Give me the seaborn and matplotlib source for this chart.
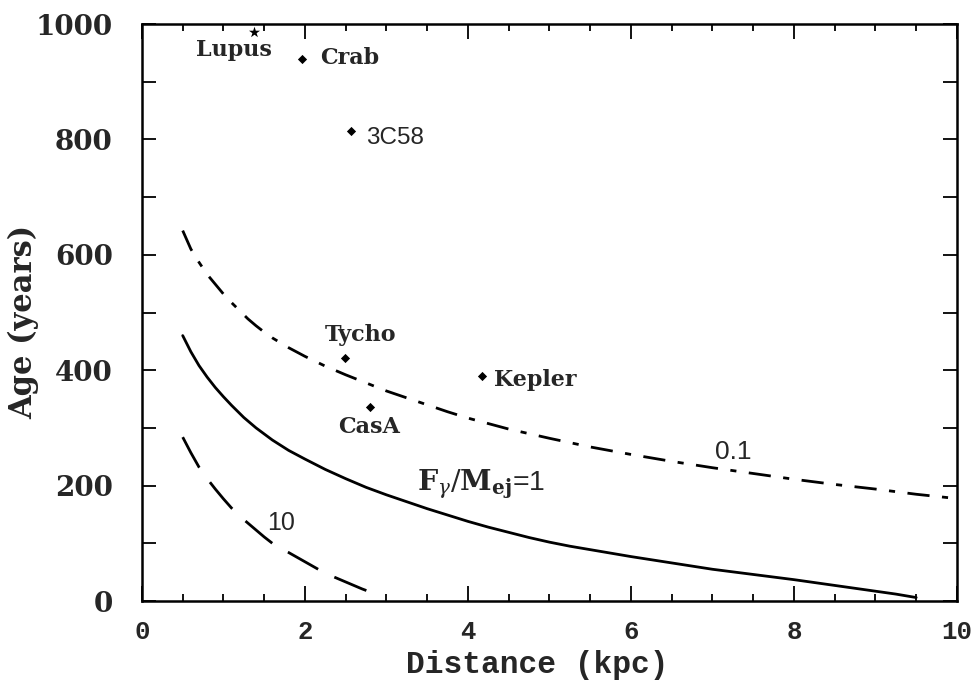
import numpy as np
import pandas as pd
import matplotlib
matplotlib.use("Agg")
import matplotlib.pyplot as plt
import seaborn as sns

# ---------------- data ----------------
snr_names = ["Lupus", "Crab", "3C58", "Tycho", "CasA", "Kepler"]
snr_dist = [1.37, 1.96, 2.56, 2.49, 2.80, 4.17]
snr_age = [987, 939, 815, 421, 336, 390]

curve_x_1 = [0.5, 0.6, 0.7, 0.8, 0.9, 1.0, 1.1, 1.25, 1.4, 1.6, 1.8, 2.0,
             2.25, 2.5, 2.75, 3.0, 3.25, 3.5, 3.75, 4.0, 4.25, 4.5, 4.75,
             5.0, 5.25, 5.5, 6.0, 6.5, 7.0, 7.5, 8.0, 8.5, 9.0, 9.25, 9.5]
curve_y_1 = [460, 432, 408, 388, 370, 354, 339, 318, 300, 279, 261, 246,
             228, 212, 197, 184, 172, 160, 149, 138, 128, 119, 110,
             102, 95, 89, 77, 66, 55, 46, 37, 27, 17, 12, 6]

curve_x_10 = [0.5, 0.6, 0.7, 0.8, 0.9, 1.0, 1.1, 1.2, 1.3, 1.4, 1.5, 1.6,
              1.7, 1.8, 1.9, 2.0, 2.1, 2.2, 2.3, 2.4, 2.5, 2.6, 2.7, 2.85]
curve_y_10 = [284, 257, 232, 212, 194, 177, 161, 147, 135, 123, 111, 100,
              91, 84, 76, 68, 60, 52, 45, 39, 33, 27, 21, 13]

curve_x_01 = [0.5, 0.6, 0.7, 0.8, 0.9, 1.0, 1.1, 1.2, 1.3, 1.4, 1.5, 1.6,
              1.8, 2.0, 2.25, 2.5, 2.75, 3.0, 3.25, 3.5, 3.75, 4.0, 4.5,
              5.0, 5.5, 6.0, 6.5, 7.0, 7.5, 8.0, 8.5, 9.0, 9.5, 9.9]
curve_y_01 = [642, 610, 587, 566, 549, 532, 517, 503, 489, 477, 466, 456,
              439, 424, 407, 392, 378, 364, 352, 340, 328, 317, 298,
              282, 267, 254, 242, 231, 221, 211, 202, 194, 185, 179]

xticks = [0, 2, 4, 6, 8, 10]
yticks = [0, 200, 400, 600, 800, 1000]

# ---------------- style ----------------
sns.set_style("white")
plt.rcParams["mathtext.fontset"] = "dejavuserif"

fig = plt.figure(figsize=(9.73, 6.86), dpi=100)
ax = fig.add_axes([0.1459, 0.1239, 0.8376, 0.8411])

lw_curve = 2.0
sns.lineplot(x=curve_x_1, y=curve_y_1, ax=ax, color="black", lw=lw_curve,
             sort=False, estimator=None)
sns.lineplot(x=curve_x_10, y=curve_y_10, ax=ax, color="black", lw=lw_curve,
             sort=False, estimator=None, linestyle=(0, (12.5, 6.5)))
sns.lineplot(x=curve_x_01, y=curve_y_01, ax=ax, color="black", lw=lw_curve,
             sort=False, estimator=None, linestyle=(0, (8.0, 4.5, 2.2, 4.5)))

snr = pd.DataFrame({"name": snr_names, "dist": snr_dist, "age": snr_age})
dia = snr[snr["name"] != "Lupus"]
star = snr[snr["name"] == "Lupus"]
sns.scatterplot(data=dia, x="dist", y="age", ax=ax, marker="D", s=22,
                color="black", edgecolor="black", linewidth=0, zorder=5)
sns.scatterplot(data=star, x="dist", y="age", ax=ax, marker="*", s=70,
                color="black", edgecolor="black", linewidth=0, zorder=5)

# labels of the remnants
name_font = dict(family="DejaVu Serif", weight="bold", size=16)
offsets = {
    "Lupus": ((-14.4, -13.0), "center", "center", name_font),
    "Crab": ((13.0, 1.0), "left", "center", name_font),
    "3C58": ((10.8, -5.0), "left", "center",
             dict(family="Liberation Sans", size=17.5)),
    "Tycho": ((11.5, 16.6), "center", "center", name_font),
    "CasA": ((-0.7, -14.4), "center", "center", name_font),
    "Kepler": ((9.0, -3.0), "left", "center", name_font),
}
for n, d, a in zip(snr_names, snr_dist, snr_age):
    off, ha, va, fnt = offsets[n]
    ax.annotate(n, (d, a), xytext=off, textcoords="offset points",
                ha=ha, va=va, **fnt)

# curve labels
ax.text(1.71, 136, "10", family="Liberation Sans", size=18,
        ha="center", va="center")
ax.text(7.25, 258, "0.1", family="Liberation Sans", size=19,
        ha="center", va="center")
ax.text(3.37, 192, r"$\mathbf{F}_{\gamma}/\mathbf{M}_{\mathbf{ej}}$=1",
        family="Liberation Sans", size=20.5, ha="left", va="baseline")

# axes
ax.set_xlim(0, 10)
ax.set_ylim(0, 1000)
ax.set_xticks(xticks)
ax.set_yticks(yticks)
ax.set_xticks(np.arange(0, 10.01, 0.5), minor=True)
ax.set_yticks(np.arange(0, 1001, 100), minor=True)
ax.set_xticklabels([str(t) for t in xticks], family="Liberation Mono",
                   weight="bold", size=18.5)
ax.set_yticklabels([str(t) for t in yticks], family="DejaVu Serif",
                   weight="bold", size=20)

for s in ax.spines.values():
    s.set_linewidth(1.8)
    s.set_color("black")
    s.set_visible(True)

ax.tick_params(which="both", direction="in", top=True, right=True,
               bottom=True, left=True, color="black", width=1.3)
ax.tick_params(axis="x", which="major", length=11, pad=14)
ax.tick_params(axis="x", which="minor", length=5)
ax.tick_params(axis="y", which="major", length=10, pad=21)
ax.tick_params(axis="y", which="minor", length=10)

ax.set_xlabel("Distance (kpc)", family="Liberation Mono", weight="bold",
              size=22.5)
ax.xaxis.label.set_va("baseline")
ax.xaxis.set_label_coords(0.485, -0.125)
ax.set_ylabel("Age (years)", family="DejaVu Serif", weight="bold", size=22)
ax.yaxis.label.set_va("center")
ax.yaxis.set_label_coords(-0.145, 0.4835)

fig.savefig("out.png", dpi=100)
